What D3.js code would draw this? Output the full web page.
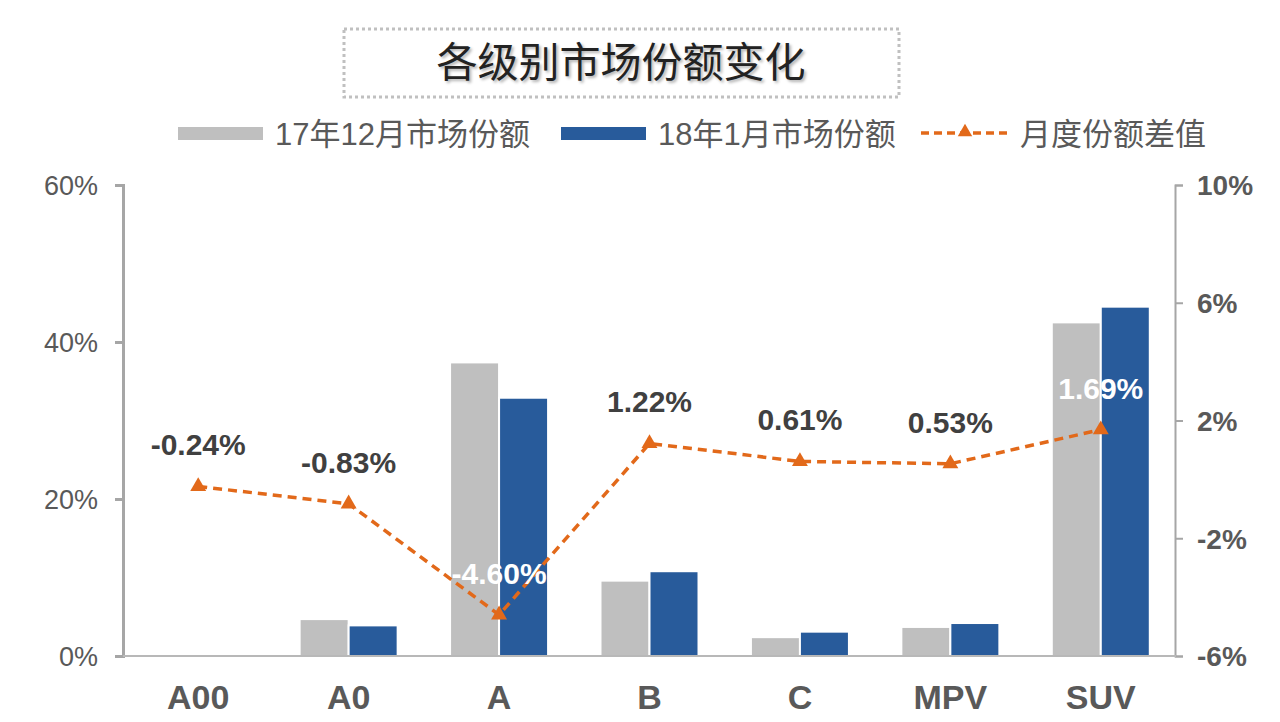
<!DOCTYPE html>
<html>
<head>
<meta charset="utf-8">
<script src="https://cdn.jsdelivr.net/npm/d3@7"></script>
<style>
  body { margin: 0; background: #fff; }
  text { font-family: "Liberation Sans", Arial, "Noto Sans CJK SC", sans-serif; }
</style>
</head>
<body>
<div id="chart"></div>
<script>
// chart values
let categories = ["A00", "A0", "A", "B", "C", "MPV", "SUV"];
let shareDec = [0.2, 4.7, 37.4, 9.6, 2.4, 3.7, 42.5];   // 17年12月
let shareJan = [0.1, 3.9, 32.9, 10.8, 3.1, 4.2, 44.5];  // 18年1月
let diffs = [-0.24, -0.83, -4.60, 1.22, 0.61, 0.53, 1.69];
let leftTicks = [0, 20, 40, 60];
let rightTicks = [-6, -2, 2, 6, 10];
let seriesNames = ["17年12月市场份额", "18年1月市场份额", "月度份额差值"];

let width = 1280,
    height = 722;
const margin = {top: 185, right: 104, bottom: 66, left: 123};
const grey = "#bfbfbf", blue = "#285b9b", orange = "#e2691a", txt = "#595959";

let svg = d3.select("#chart")
    .append("svg")
    .attr("width", width)
    .attr("height", height);

let x = d3.scaleBand()
    .domain(categories)
    .range([margin.left, width - margin.right]);

let yL = d3.scaleLinear().domain([0, 60]).range([height - margin.bottom, margin.top]);
let yR = d3.scaleLinear().domain([-6, 10]).range([height - margin.bottom, margin.top]);

let barW = 49;

// title box
svg.append("rect")
    .attr("x", 344).attr("y", 29)
    .attr("width", 555).attr("height", 68)
    .attr("fill", "none")
    .attr("stroke", "#c0c0c0")
    .attr("stroke-width", 3)
    .attr("stroke-dasharray", "3,3");

svg.append("text")
    .attr("x", 621).attr("y", 77)
    .attr("text-anchor", "middle")
    .style("font-family", "'Noto Sans CJK SC', sans-serif")
    .style("font-size", "41px")
    .attr("fill", "#222")
    .style("text-shadow", "2px 2px 3px rgba(0,0,0,0.3)")
    .text("各级别市场份额变化");

// legend
let lg = svg.append("g").style("font-family", "'Noto Sans CJK SC', sans-serif");
lg.append("rect").attr("x", 178).attr("y", 127).attr("width", 85).attr("height", 13).attr("fill", grey);
lg.append("text").attr("x", 275).attr("y", 145).attr("fill", txt).style("font-size", "31px").text(seriesNames[0]);
lg.append("rect").attr("x", 561).attr("y", 127).attr("width", 85).attr("height", 13).attr("fill", blue);
lg.append("text").attr("x", 658).attr("y", 145).attr("fill", txt).style("font-size", "31px").text(seriesNames[1]);
lg.append("line").attr("x1", 921).attr("x2", 1008).attr("y1", 133).attr("y2", 133)
    .attr("stroke", orange).attr("stroke-width", 3.5).attr("stroke-dasharray", "8,5");
lg.append("path").attr("d", d3.symbol(d3.symbolTriangle, 90)()).attr("transform", "translate(965,132)").attr("fill", orange);
lg.append("text").attr("x", 1020).attr("y", 145).attr("fill", txt).style("font-size", "31px").text(seriesNames[2]);

// left axis
let axL = svg.append("g")
    .attr("transform", `translate(${margin.left},0)`)
    .call(d3.axisLeft(yL).tickValues(leftTicks).tickSize(8).tickPadding(17).tickFormat(d => d + "%"));
axL.select(".domain").attr("stroke", "#a6a6a6").attr("stroke-width", 3);
axL.selectAll(".tick line").attr("stroke", "#a6a6a6").attr("stroke-width", 3);
axL.selectAll(".tick text").attr("fill", txt).style("font-size", "27px").attr("dy", "0.35em");

// right axis
let axR = svg.append("g")
    .attr("transform", `translate(${width - margin.right - 1},0)`)
    .call(d3.axisRight(yR).tickValues(rightTicks).tickSize(8).tickPadding(14).tickFormat(d => d + "%"));
axR.select(".domain").attr("stroke", "#a6a6a6").attr("stroke-width", 2);
axR.selectAll(".tick line").attr("stroke", "#a6a6a6").attr("stroke-width", 2);
axR.selectAll(".tick text").attr("fill", txt).style("font-size", "28px").style("font-weight", "bold").attr("dy", "0.35em");

// bars
let bars = svg.append("g");
bars.selectAll("rect.dec").data(categories).enter()
    .append("rect")
    .attr("x", d => x(d) + x.bandwidth() / 2 - barW)
    .attr("y", (d, i) => yL(shareDec[i]))
    .attr("width", barW)
    .attr("height", (d, i) => yL(0) - yL(shareDec[i]))
    .attr("fill", grey)
    .attr("stroke", "#fff").attr("stroke-width", 2);
bars.selectAll("rect.jan").data(categories).enter()
    .append("rect")
    .attr("x", d => x(d) + x.bandwidth() / 2)
    .attr("y", (d, i) => yL(shareJan[i]))
    .attr("width", barW)
    .attr("height", (d, i) => yL(0) - yL(shareJan[i]))
    .attr("fill", blue)
    .attr("stroke", "#fff").attr("stroke-width", 2);

// x baseline
svg.append("line")
    .attr("x1", margin.left).attr("x2", width - margin.right)
    .attr("y1", yL(0)).attr("y2", yL(0))
    .attr("stroke", "#b8b8b8").attr("stroke-width", 2);

// category labels
svg.append("g").selectAll("text").data(categories).enter()
    .append("text")
    .attr("x", d => x(d) + x.bandwidth() / 2)
    .attr("y", 709)
    .attr("text-anchor", "middle")
    .attr("fill", txt)
    .style("font-size", "34px")
    .style("font-weight", "bold")
    .text(d => d);

// difference line
let line = d3.line()
    .x((d, i) => x(categories[i]) + x.bandwidth() / 2)
    .y(d => yR(d));

svg.append("path")
    .datum(diffs)
    .attr("d", line)
    .attr("fill", "none")
    .attr("stroke", orange)
    .attr("stroke-width", 3.5)
    .attr("stroke-dasharray", "9,6");

svg.append("g").selectAll("path").data(diffs).enter()
    .append("path")
    .attr("d", d3.symbol(d3.symbolTriangle, 110)())
    .attr("transform", (d, i) => `translate(${x(categories[i]) + x.bandwidth() / 2},${yR(d)})`)
    .attr("fill", orange);

// data labels (white where they sit on bars)
let onBar = ["A", "SUV"];
svg.append("g").selectAll("text").data(diffs).enter()
    .append("text")
    .attr("x", (d, i) => x(categories[i]) + x.bandwidth() / 2)
    .attr("y", d => yR(d) - 31)
    .attr("text-anchor", "middle")
    .attr("fill", (d, i) => onBar.includes(categories[i]) ? "#fff" : "#404040")
    .style("font-size", "30px")
    .style("font-weight", "bold")
    .text(d => d.toFixed(2) + "%");
</script>
</body>
</html>
